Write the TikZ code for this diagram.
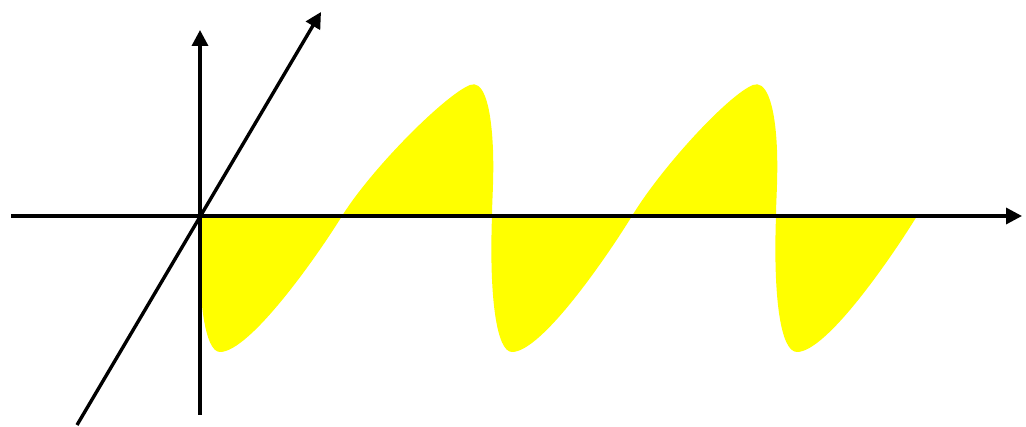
\documentclass[tikz,border=0pt]{standalone}
\usetikzlibrary{arrows.meta}
\tikzset{
  axis/.style={line width=3.4pt, -{Triangle[length=16pt,width=16pt]}},
  wave/.style={fill={rgb,255:red,255;green,255;blue,0}, draw=none}
}
\begin{document}
\begin{tikzpicture}[x=1pt,y=-1pt]
\useasboundingbox (0,0) rectangle (1026,427);
% wave fill
\path[wave] (200,216) .. controls (197,300) and (205,352) .. (220,352)
  .. controls (250,352) and (318,255) .. (342,216)
  .. controls (372,168) and (445,95) .. (470,85)
  .. controls (482,80) and (491,100) .. (493,150)
  .. controls (494,180) and (492,200) .. (492,216)
  .. controls (489,300) and (497,352) .. (512,352)
  .. controls (542,352) and (608,255) .. (632,216)
  .. controls (661,168) and (728,95) .. (753,85)
  .. controls (765,80) and (775,100) .. (777,150)
  .. controls (778,180) and (776,200) .. (776,216)
  .. controls (773,300) and (781,352) .. (797,352)
  .. controls (827,352) and (893,255) .. (917,216)
  -- cycle;
% axes
\coordinate (o) at (200,216);
\coordinate (xl) at (11,216);
\coordinate (xr) at (1022,216);
\coordinate (yb) at (200,415);
\coordinate (yt) at (200,30);
\coordinate (zb) at (77,425);
\coordinate (zt) at (321,12);
\draw[axis] (xl) -- (xr);
\draw[axis] (yb) -- (yt);
\draw[axis] (zb) -- (zt);
\end{tikzpicture}
\end{document}
